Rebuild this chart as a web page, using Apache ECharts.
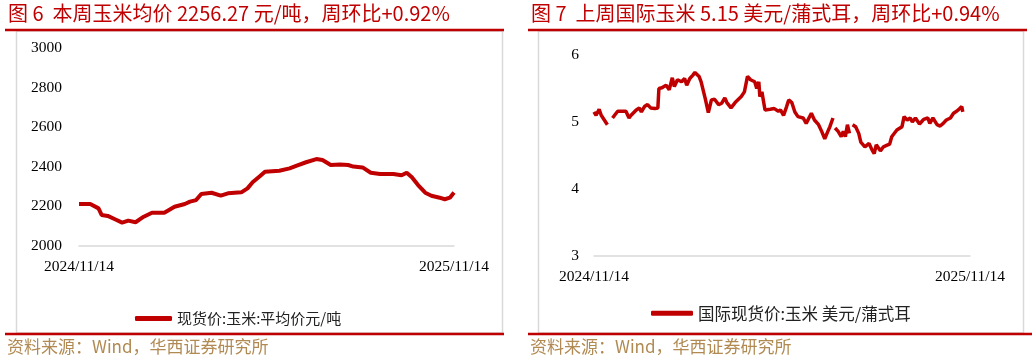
<!DOCTYPE html>
<html>
<head>
<meta charset="utf-8">
<script src="https://cdn.jsdelivr.net/npm/echarts@6/dist/echarts.min.js"></script>
<style>
html,body{margin:0;padding:0;background:#fff;}
#c{width:1032px;height:363px;}
</style>
</head>
<body>
<div id="c"></div>
<script>
// ---------- data ----------
const leftTitle = '图 6  本周玉米均价 2256.27 元/吨，周环比+0.92%';
const rightTitle = '图 7  上周国际玉米 5.15 美元/蒲式耳，周环比+0.94%';
const sourceText = '资料来源：Wind，华西证券研究所';
const leftSeriesName = '现货价:玉米:平均价元/吨';
const rightSeriesName = '国际现货价:玉米 美元/蒲式耳';
const xTickDates = ['2024-11-14', '2025-11-14'];

const leftDates = ['2024-11-14','2024-11-25','2024-12-03','2024-12-06','2024-12-12','2024-12-19','2024-12-26','2025-01-01','2025-01-08','2025-01-16','2025-01-24','2025-02-05','2025-02-15','2025-02-25','2025-03-02','2025-03-08','2025-03-13','2025-03-23','2025-04-01','2025-04-08','2025-04-21','2025-04-27','2025-05-02','2025-05-09','2025-05-14','2025-05-28','2025-06-07','2025-06-14','2025-06-23','2025-07-03','2025-07-09','2025-07-17','2025-07-26','2025-08-03','2025-08-08','2025-08-17','2025-08-25','2025-09-03','2025-09-16','2025-09-24','2025-09-29','2025-10-04','2025-10-10','2025-10-17','2025-10-23','2025-10-31','2025-11-05','2025-11-10','2025-11-14'];
const leftValues = [2212,2212,2190,2157,2152,2135,2118,2128,2120,2148,2168,2168,2198,2212,2224,2232,2263,2269,2254,2266,2271,2291,2322,2352,2375,2380,2392,2406,2423,2439,2434,2409,2412,2409,2401,2397,2370,2364,2364,2357,2370,2347,2308,2269,2254,2244,2236,2244,2270];

const rightDates = ['2024-11-14','2024-11-16','2024-11-19','2024-11-21','2024-11-24','2024-11-27','2024-11-29','2024-12-02','2024-12-04','2024-12-07','2024-12-15','2024-12-18','2024-12-20','2024-12-25','2024-12-28','2024-12-30','2025-01-02','2025-01-05','2025-01-08','2025-01-12','2025-01-15','2025-01-16','2025-01-19','2025-01-23','2025-01-26','2025-01-29','2025-01-31','2025-02-03','2025-02-07','2025-02-10','2025-02-12','2025-02-15','2025-02-18','2025-02-20','2025-02-24','2025-02-26','2025-03-02','2025-03-05','2025-03-08','2025-03-11','2025-03-15','2025-03-18','2025-03-21','2025-03-23','2025-03-27','2025-03-31','2025-04-06','2025-04-09','2025-04-12','2025-04-15','2025-04-19','2025-04-21','2025-04-23','2025-04-24','2025-04-26','2025-04-29','2025-05-04','2025-05-08','2025-05-12','2025-05-14','2025-05-17','2025-05-20','2025-05-22','2025-05-25','2025-05-28','2025-05-31','2025-06-05','2025-06-08','2025-06-13','2025-06-16','2025-06-20','2025-06-23','2025-06-26','2025-06-29','2025-07-01','2025-07-04','2025-07-05','2025-07-06','2025-07-09','2025-07-12','2025-07-14','2025-07-16','2025-07-18','2025-07-20','2025-07-21','2025-07-23','2025-07-26','2025-07-29','2025-07-31','2025-08-04','2025-08-08','2025-08-11','2025-08-13','2025-08-15','2025-08-19','2025-08-22','2025-08-25','2025-08-28','2025-08-30','2025-09-04','2025-09-09','2025-09-11','2025-09-14','2025-09-17','2025-09-19','2025-09-22','2025-09-26','2025-09-30','2025-10-04','2025-10-06','2025-10-09','2025-10-13','2025-10-16','2025-10-19','2025-10-22','2025-10-26','2025-10-29','2025-11-01','2025-11-04','2025-11-06','2025-11-07'];
const rightValues = [5.15,5.10,5.19,5.10,5.03,4.96,null,5.06,5.10,5.16,5.16,5.06,5.10,5.18,5.21,5.15,5.23,5.26,5.21,5.20,5.21,5.50,5.51,5.55,5.48,5.66,5.53,5.63,5.60,5.65,5.55,5.65,5.70,5.74,5.68,5.60,5.35,5.14,5.33,5.34,5.26,5.28,5.36,5.29,5.21,5.29,5.38,5.45,5.68,5.63,5.60,5.50,5.60,5.38,5.45,5.18,5.19,5.20,5.16,5.18,5.10,5.23,5.33,5.29,5.15,5.08,5.06,4.98,5.13,5.03,4.96,4.86,4.75,4.86,4.93,5.06,null,4.91,4.86,4.78,4.86,4.78,4.96,4.83,null,4.96,4.93,4.83,4.70,4.63,4.68,4.58,4.53,4.66,4.57,4.63,4.65,4.67,4.78,4.88,4.93,5.08,5.03,5.06,5.00,5.06,4.97,5.04,5.06,4.98,5.06,4.96,4.94,4.98,5.03,5.06,5.13,5.16,5.20,5.23,5.15];

// ---------- chart ----------
const RED = '#C00000';
const GRAY = '#D9D9D9';
const SRC = '#B08A52';
const serif = '"Liberation Serif", "Times New Roman", serif';
const cjk = '"Noto Sans CJK SC", sans-serif';

function toTs(s){ const p = s.split('-'); return new Date(+p[0], +p[1]-1, +p[2]).getTime(); }
function fmt(v){ const d = new Date(v); return d.getFullYear() + '/' + (d.getMonth()+1) + '/' + d.getDate(); }
const tickTs = xTickDates.map(toTs);

const chart = echarts.init(document.getElementById('c'), null, {renderer:'canvas'});

function xAx(gi){
  return {
    type:'value', gridIndex:gi, min: tickTs[0], max: tickTs[1],
    axisLine:{show:true, lineStyle:{color:GRAY, width:1.5}},
    axisTick:{show:false}, splitLine:{show:false},
    axisLabel:{customValues: tickTs, formatter: fmt, color:'#000', fontFamily: serif, fontSize:15.5, margin:13, hideOverlap:false}
  };
}
function yAx(gi, mn, mx, iv, margin){
  return {
    type:'value', gridIndex:gi, min:mn, max:mx, interval:iv,
    axisLine:{show:false}, axisTick:{show:false}, splitLine:{show:false},
    axisLabel:{color:'#000', fontFamily: serif, fontSize:15.5, margin:margin, formatter:(v)=>String(v)}
  };
}

const option = {
  animation:false,
  backgroundColor:'#fff',
  grid:[
    {left:79, top:48, width:375, height:198},
    {left:594, top:55, width:376, height:201}
  ],
  xAxis:[xAx(0), xAx(1)],
  yAxis:[yAx(0,2000,3000,200,17), yAx(1,3,6,1,15)],
  legend:[
    {data:[leftSeriesName], left:130, top:306, itemWidth:37, itemHeight:5, icon:'roundRect', itemGap:4,
     textStyle:{fontFamily:cjk, fontSize:15, color:'#222'}},
    {data:[rightSeriesName], left:646, top:300, itemWidth:42, itemHeight:5, icon:'roundRect', itemGap:4,
     textStyle:{fontFamily:cjk, fontSize:16.5, color:'#222'}}
  ],
  series:[
    {name:leftSeriesName, type:'line', xAxisIndex:0, yAxisIndex:0, showSymbol:false, symbol:'none',
     lineStyle:{color:RED, width:4}, itemStyle:{color:RED},
     data: leftDates.map((d,i)=>[toTs(d), leftValues[i]])},
    {name:rightSeriesName, type:'line', xAxisIndex:1, yAxisIndex:1, showSymbol:false, symbol:'none',
     lineStyle:{color:RED, width:3.5}, itemStyle:{color:RED}, connectNulls:false,
     data: rightDates.map((d,i)=>[toTs(d), rightValues[i]])}
  ],
  graphic:[
    {type:'rect', silent:true, z:-1, shape:{x:16.5, y:31, width:486, height:302}, style:{fill:'#fff', stroke:GRAY, lineWidth:1.5}},
    {type:'rect', silent:true, z:-1, shape:{x:538.5, y:31, width:485, height:302}, style:{fill:'#fff', stroke:GRAY, lineWidth:1.5}},
    {type:'line', silent:true, shape:{x1:5, y1:30, x2:504, y2:30}, style:{stroke:RED, lineWidth:2.5}},
    {type:'line', silent:true, shape:{x1:5, y1:334, x2:504, y2:334}, style:{stroke:RED, lineWidth:2.5}},
    {type:'line', silent:true, shape:{x1:528, y1:30, x2:1027, y2:30}, style:{stroke:RED, lineWidth:2.5}},
    {type:'line', silent:true, shape:{x1:528, y1:334, x2:1032, y2:334}, style:{stroke:RED, lineWidth:2.5}},
    {type:'text', silent:true, left:8, top:3, style:{text:leftTitle, fill:RED, font:'20px ' + cjk}},
    {type:'text', silent:true, left:531, top:3, style:{text:rightTitle, fill:RED, font:'20px ' + cjk}},
    {type:'text', silent:true, left:7, top:338, style:{text:sourceText, fill:SRC, font:'17px ' + cjk}},
    {type:'text', silent:true, left:530, top:338, style:{text:sourceText, fill:SRC, font:'17px ' + cjk}}
  ]
};
chart.setOption(option);
</script>
</body>
</html>
